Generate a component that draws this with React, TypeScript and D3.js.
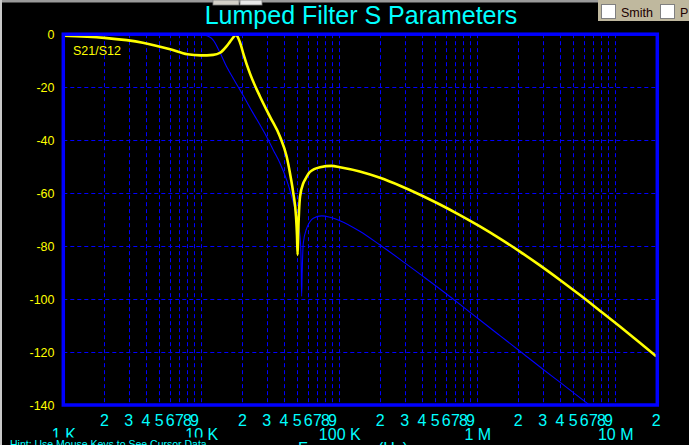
import React from "react";
import * as d3 from "d3";

// ---- data ----
const yFreq = [1000, 2000, 3800, 6000, 8000, 10000, 12300, 13800, 15400, 16300, 17200, 18000, 18800, 19500, 20300, 22700, 26900, 31700, 37500, 41900, 44300, 46800, 49000, 49800, 50300, 50800, 51500, 52400, 55300, 56900, 61800, 73100, 88800, 102000, 142000, 199000, 278000, 388000, 541000, 755000, 1054000, 1472000, 2056000, 2870000, 4008000, 5600000, 7800000, 10900000, 15200000, 20000000];
const s21dB = [-0.6, -1.4, -3.2, -5.7, -7.6, -8.0, -7.8, -7.0, -4.5, -2.8, -1.2, -0.2, -1.8, -4.0, -7.2, -14.8, -23.6, -31.1, -38.7, -46.2, -52.5, -60, -68.9, -76, -83.3, -75, -67, -61.3, -56.3, -55, -52, -50.2, -49.7, -50.2, -51.8, -54.2, -57.2, -60.6, -64.3, -68.3, -72.6, -77.2, -82.1, -87.3, -92.8, -98.5, -104.4, -110.4, -116.5, -121.6];

const bFreq = [1000, 5000, 9000, 10700, 11500, 12300, 13800, 15400, 17200, 19200, 21500, 24000, 26900, 30000, 33500, 37500, 41900, 45600, 49500, 52400, 53300, 53800, 54300, 55300, 58500, 61800, 65400, 75200, 86300, 102000, 142000, 199000, 278000, 388000, 541000, 755000, 1054000, 1472000, 2056000, 3034000, 3894000, 6255000, 8000000];
const refDB = [0, 0, -0.1, -0.4, -1.0, -2.2, -7.0, -12.3, -16.7, -21, -25.5, -29.9, -34.3, -38.7, -43.7, -48.7, -55, -61.3, -68.9, -76.4, -85, -99, -90, -78.9, -73.3, -70.8, -69.5, -68.6, -69.1, -70.4, -74.4, -79.6, -85.0, -90.6, -96.2, -102.0, -107.9, -113.8, -119.7, -126.6, -130.9, -139.2, -143.5];

const yTicks = [0, -20, -40, -60, -80, -100, -120, -140];
const decades = [1000, 10000, 100000, 1000000, 10000000];
const majorLabels = ["1 K", "10 K", "100 K", "1 M", "10 M"];
const minorDigits = [2, 3, 4, 5, 6, 7, 8, 9];

const FONT = "'Liberation Sans', Arial, sans-serif";

export default function App() {
  const left = 63.3, right = 657.3, top = 34.2, bottom = 405;
  const x = d3.scaleLog().domain([1000, 20000000]).range([62.8, 656.3]);
  const y = d3.scaleLinear().domain([0, -140]).range([top, bottom]);

  const line = d3
    .line<[number, number]>()
    .x((d) => x(d[0]))
    .y((d) => y(d[1]))
    .curve(d3.curveMonotoneX);

  const yellowPath = line(yFreq.map((f, i) => [f, s21dB[i]] as [number, number])) || "";
  const bluePath = line(bFreq.map((f, i) => [f, refDB[i]] as [number, number])) || "";

  const gridFreqs: number[] = [];
  decades.forEach((dec, di) => {
    const digs = di === decades.length - 1 ? [1] : [1, 2, 3, 4, 5, 6, 7, 8, 9];
    digs.forEach((m) => {
      const f = dec * m;
      if (f > 1000 && f < 20000000) gridFreqs.push(f);
    });
  });

  const minorLabelItems: { f: number; t: string }[] = [];
  decades.forEach((dec, di) => {
    const digs = di === decades.length - 1 ? [2] : minorDigits;
    digs.forEach((m) => minorLabelItems.push({ f: dec * m, t: String(m) }));
  });

  const blue = "#0000ff";

  return (
    <div style={{ position: "fixed", left: 0, top: 0, width: 689, height: 445, overflow: "hidden" }}>
      <svg width={689} height={445} style={{ display: "block" }}>
        <defs>
          <clipPath id="plotClip">
            <rect x={left} y={top - 2} width={right - left} height={bottom - top + 2} />
          </clipPath>
        </defs>
        <rect x={0} y={0} width={689} height={445} fill="#000" />
        {/* window chrome */}
        <rect x={0} y={0} width={689} height={2.5} fill="#9a9a9a" />
        <rect x={213} y={0} width={26} height={5} fill="#d4d0c8" stroke="#808080" strokeWidth={0.8} />
        <rect x={240} y={0} width={22} height={5} fill="#e8e8e8" stroke="#808080" strokeWidth={0.8} />

        {/* title */}
        <text x={361} y={24} textAnchor="middle" fill="#00ffff" fontFamily={FONT} fontSize={25}>
          Lumped Filter S Parameters
        </text>

        {/* top-right panel */}
        <rect x={598} y={0} width={91} height={21} fill="#bfb89e" />
        <rect x={601.5} y={4.5} width={14} height={14} fill="#fff" stroke="#808080" strokeWidth={1} />
        <text x={621} y={16.5} fill="#200000" fontFamily={FONT} fontSize={12.5}>Smith</text>
        <rect x={660.5} y={4.5} width={14} height={14} fill="#fff" stroke="#808080" strokeWidth={1} />
        <text x={680} y={16.5} fill="#200000" fontFamily={FONT} fontSize={12.5}>P</text>

        {/* grid */}
        <g stroke={blue} strokeWidth={1} strokeDasharray="4,3">
          {yTicks.slice(1, -1).map((v) => (
            <line key={"h" + v} x1={left} x2={right} y1={Math.round(y(v)) + 0.5} y2={Math.round(y(v)) + 0.5} />
          ))}
          {gridFreqs.map((f) => (
            <line key={"v" + f} x1={Math.round(x(f)) + 0.5} x2={Math.round(x(f)) + 0.5} y1={top} y2={bottom} />
          ))}
        </g>

        {/* curves */}
        <g clipPath="url(#plotClip)">
          <path d={bluePath} fill="none" stroke={blue} strokeWidth={1.1} />
          <path d={yellowPath} fill="none" stroke="#ffff00" strokeWidth={2.6} strokeLinejoin="round" />
        </g>

        {/* frame */}
        <rect x={left} y={top} width={right - left} height={bottom - top} fill="none" stroke={blue} strokeWidth={3.5} />

        <text x={73} y={54.5} fill="#ffff00" fontFamily={FONT} fontSize={12.5}>S21/S12</text>

        {/* y tick labels */}
        {yTicks.map((v) => (
          <text key={"yl" + v} x={54.5} y={y(v) + 4.5} textAnchor="end" fill="#ffff00" fontFamily={FONT} fontSize={12.5}>
            {v}
          </text>
        ))}

        {/* x minor labels */}
        {minorLabelItems.map((d) => (
          <text key={"xm" + d.f} x={x(d.f)} y={426} textAnchor="middle" fill="#00ffff" fontFamily={FONT} fontSize={16}>
            {d.t}
          </text>
        ))}

        {/* x major labels */}
        {decades.map((f, i) => (
          <text key={"xM" + f} x={x(f) + 1} y={440} textAnchor="middle" fill="#00ffff" fontFamily={FONT} fontSize={16}>
            {majorLabels[i]}
          </text>
        ))}

        {/* axis title, mostly below the window edge as in the reference */}
        <text x={353} y={453.5} textAnchor="middle" fill="#00ffff" fontFamily={FONT} fontSize={16}>
          Frequency (Hz)
        </text>

        {/* hint bar */}
        <rect x={0} y={437.5} width={203} height={8} fill="#000" />
        <text x={10} y={447.5} fill="#00ffff" fontFamily={FONT} fontSize={10.5}>
          Hint: Use Mouse Keys to See Cursor Data
        </text>
        <rect x={0} y={0} width={2} height={445} fill="#c8c8c8" />
      </svg>
    </div>
  );
}
